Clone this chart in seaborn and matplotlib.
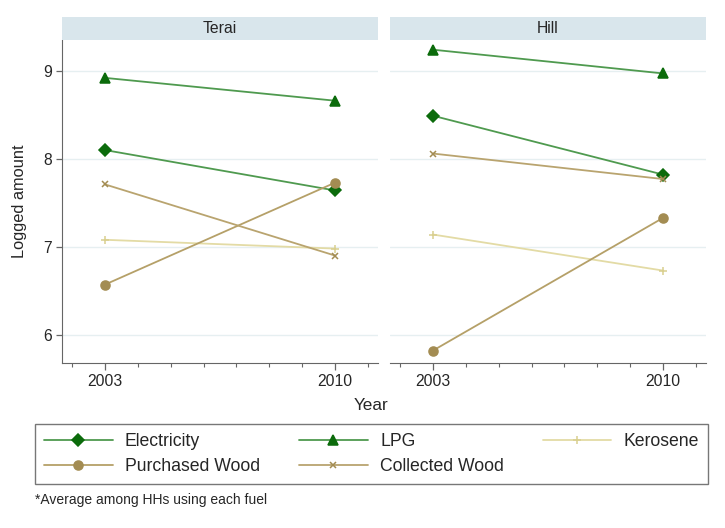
import pandas as pd
import matplotlib.pyplot as plt
import matplotlib.ticker as mtick
import seaborn as sns

# values
years = [2003, 2010]
regions = ['Terai', 'Hill']
fuels = ['Electricity', 'LPG', 'Kerosene', 'Purchased Wood', 'Collected Wood']
terai = {
    'Electricity': [8.10, 7.64],
    'LPG': [8.92, 8.66],
    'Kerosene': [7.08, 6.98],
    'Purchased Wood': [6.57, 7.73],
    'Collected Wood': [7.71, 6.90],
}
hill = {
    'Electricity': [8.49, 7.82],
    'LPG': [9.24, 8.97],
    'Kerosene': [7.14, 6.73],
    'Purchased Wood': [5.82, 7.33],
    'Collected Wood': [8.06, 7.77],
}

rows = []
for region, vals in zip(regions, [terai, hill]):
    for fuel in fuels:
        for yr, v in zip(years, vals[fuel]):
            rows.append({'Region': region, 'Fuel': fuel, 'Year': yr, 'Logged amount': v})
df = pd.DataFrame(rows)

# line colour, marker colour, marker, marker size
styles = {
    'Electricity': ('#4f9a4f', '#0b6b0b', 'D', 6.3),
    'LPG': ('#4f9a4f', '#0b6b0b', '^', 6.5),
    'Kerosene': ('#e3dba5', '#d9cf8f', '+', 6),
    'Purchased Wood': ('#b5a068', '#a38c52', 'o', 6.5),
    'Collected Wood': ('#b9a46f', '#a38c52', 'x', 4),
}

sns.set_style('white')
plt.rcParams['font.family'] = ['Liberation Sans', 'DejaVu Sans']

fig = plt.figure(figsize=(7.25, 5.28), dpi=100)
panel_y, panel_h = 1 - 363 / 528, 323 / 528
strip_h = 23 / 528
lefts = [62 / 725, 390 / 725]
width = 316 / 725

axes = []
for i, region in enumerate(regions):
    ax = fig.add_axes([lefts[i], panel_y, width, panel_h])
    sub = df[df['Region'] == region]
    for fuel in fuels:
        lc, mc, mk, ms = styles[fuel]
        d = sub[sub['Fuel'] == fuel]
        sns.lineplot(data=d, x='Year', y='Logged amount', ax=ax, color=lc,
                     marker=mk, markersize=ms, markerfacecolor=mc,
                     markeredgecolor=mc, markeredgewidth=1.1, linewidth=1.3,
                     label=fuel)
    if ax.get_legend() is not None:
        ax.get_legend().remove()
    ax.set_xlim(2001.7, 2011.3)
    ax.set_ylim(5.68, 9.35)
    ax.set_xticks(years)
    ax.xaxis.set_minor_locator(mtick.FixedLocator(range(2002, 2012)))
    ax.set_yticks([6, 7, 8, 9])
    ax.grid(axis='y', color='#e6eff1', linewidth=1)
    ax.set_axisbelow(True)
    ax.set_xlabel('')
    ax.set_ylabel('')
    for s in ['top', 'right']:
        ax.spines[s].set_visible(False)
    ax.spines['bottom'].set_color('#666666')
    ax.spines['left'].set_color('#666666')
    ax.tick_params(axis='x', which='major', bottom=True, length=5, width=0.9,
                   color='#666666', labelsize=11.3, pad=3)
    ax.tick_params(axis='x', which='minor', bottom=True, length=3, width=0.8,
                   color='#666666')
    ax.tick_params(axis='y', length=4, width=0.9, color='#666666',
                   labelsize=11.3, left=True, pad=3)
    if i == 1:
        ax.spines['left'].set_visible(False)
        ax.tick_params(axis='y', left=False, labelleft=False)
    axes.append(ax)

    strip = fig.add_axes([lefts[i], panel_y + panel_h, width, strip_h])
    strip.set_facecolor('#d9e6ec')
    strip.set_xticks([])
    strip.set_yticks([])
    for s in strip.spines.values():
        s.set_visible(False)
    strip.text(0.5, 0.5, region, ha='center', va='center', fontsize=11.3,
               transform=strip.transAxes)

fig.text(20 / 725, 1 - 201 / 528, 'Logged amount', rotation=90, ha='center',
         va='center', fontsize=11.8)
fig.text(371 / 725, 1 - 406 / 528, 'Year', ha='center', va='center', fontsize=12.3)

handles, labels = axes[0].get_legend_handles_labels()
lookup = dict(zip(labels, handles))
order = ['Electricity', 'Purchased Wood', 'LPG', 'Collected Wood', 'Kerosene']
leg = fig.legend([lookup[k] for k in order], order, ncol=3,
                 bbox_to_anchor=(35 / 725, 1 - 484 / 528, 673 / 725, 62 / 528),
                 mode='expand', loc='lower left', fontsize=12.7, frameon=True,
                 fancybox=False, handlelength=3.9, borderaxespad=0,
                 handletextpad=0.7, labelspacing=0.45, borderpad=0.5)
leg.get_frame().set_edgecolor('#555555')
leg.get_frame().set_linewidth(1.0)

fig.text(35 / 725, 1 - 500 / 528, '*Average among HHs using each fuel',
         ha='left', va='center', fontsize=10)

fig.savefig('out.png', dpi=100)
